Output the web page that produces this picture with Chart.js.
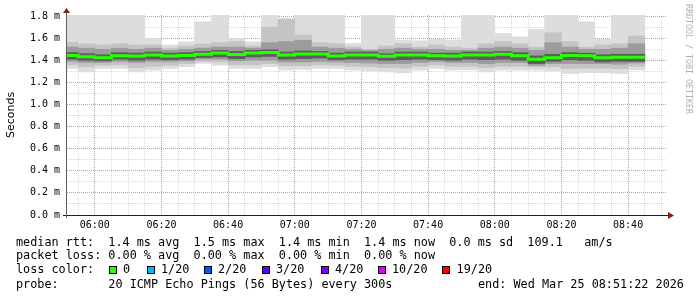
<!DOCTYPE html>
<html><head><meta charset="utf-8">
<script src="https://cdn.jsdelivr.net/npm/chart.js@4/dist/chart.umd.min.js"></script>
<style>
html,body{margin:0;padding:0;background:#fff;}
#wrap{position:relative;width:697px;height:297px;overflow:hidden;background:#fff;}
#c{position:absolute;left:0;top:0;}
.row{position:absolute;left:16px;font-family:"DejaVu Sans Mono",monospace;font-size:11.8px;line-height:14px;white-space:pre;color:#000;}
.lt{position:absolute;font-family:"DejaVu Sans Mono",monospace;font-size:11.8px;line-height:14px;white-space:pre;color:#000;}
.box{position:absolute;width:6px;height:6px;border:1px solid #000;}
#credit{position:absolute;left:684px;top:4px;writing-mode:vertical-rl;font-family:"DejaVu Sans Mono",monospace;font-size:8.3px;line-height:10px;color:#b0b0b0;white-space:pre;}
</style></head>
<body>
<div id="wrap">
<canvas id="c" width="697" height="297"></canvas>
<div id="credit">RRDTOOL / TOBI OETIKER</div>
<div id="legend"></div>
</div>
<script>
// ---- data (5-minute steps, start time of each step) ----
const times = ["05:50","05:55","06:00","06:05","06:10","06:15","06:20","06:25","06:30","06:35","06:40","06:45",
  "06:50","06:55","07:00","07:05","07:10","07:15","07:20","07:25","07:30","07:35","07:40","07:45",
  "07:50","07:55","08:00","08:05","08:10","08:15","08:20","08:25","08:30","08:35","08:40"];
// median rtt (ms)
const median = [1.444,1.432,1.422,1.441,1.438,1.449,1.438,1.444,1.454,1.465,1.452,1.467,1.471,1.447,1.456,1.456,1.438,1.447,
  1.449,1.436,1.447,1.449,1.441,1.440,1.449,1.449,1.454,1.441,1.409,1.422,1.444,1.441,1.422,1.427,1.427];
// smoke: slowest / fastest ping (ms)
const pingMax = [1.81,1.81,1.81,1.81,1.81,1.598,1.538,1.567,1.748,1.81,1.598,1.567,1.81,1.78,1.81,1.81,1.81,1.553,
  1.81,1.81,1.583,1.577,1.59,1.583,1.81,1.81,1.643,1.613,1.682,1.81,1.81,1.748,1.59,1.81,1.81];
const pingMin = [1.327,1.296,1.327,1.327,1.296,1.312,1.327,1.342,1.372,1.357,1.327,1.327,1.342,1.312,1.318,1.327,1.327,1.312,
  1.303,1.296,1.287,1.312,1.327,1.312,1.312,1.296,1.312,1.312,1.312,1.303,1.282,1.287,1.287,1.282,1.312];
// smoke: 2nd slowest / 2nd fastest
const outerHi = [1.565,1.55,1.54,1.55,1.54,1.54,1.51,1.53,1.545,1.56,1.57,1.53,1.70,1.77,1.63,1.56,1.55,1.52,
  1.50,1.53,1.55,1.52,1.54,1.52,1.51,1.55,1.57,1.55,1.52,1.65,1.57,1.52,1.54,1.55,1.62];
const outerLo = [1.36,1.34,1.355,1.36,1.335,1.345,1.355,1.37,1.39,1.385,1.36,1.36,1.37,1.35,1.35,1.36,1.355,1.345,
  1.34,1.335,1.33,1.345,1.36,1.345,1.345,1.335,1.345,1.345,1.34,1.34,1.325,1.33,1.33,1.325,1.345];
// smoke: middle band
const midHi = [1.52,1.51,1.50,1.51,1.50,1.51,1.49,1.50,1.51,1.52,1.52,1.51,1.56,1.57,1.58,1.52,1.51,1.50,
  1.49,1.50,1.51,1.50,1.50,1.49,1.49,1.51,1.52,1.51,1.49,1.56,1.52,1.50,1.50,1.51,1.55];
const midLo = [1.39,1.38,1.38,1.39,1.38,1.39,1.39,1.395,1.41,1.41,1.395,1.40,1.40,1.385,1.385,1.39,1.385,1.38,
  1.375,1.37,1.37,1.38,1.39,1.38,1.38,1.37,1.38,1.38,1.355,1.37,1.37,1.37,1.37,1.365,1.375];
// smoke: inner (dense) band
const innerHi = [1.47,1.46,1.45,1.47,1.465,1.475,1.465,1.47,1.48,1.49,1.48,1.49,1.495,1.475,1.485,1.48,1.465,1.475,
  1.475,1.46,1.475,1.475,1.465,1.465,1.475,1.475,1.48,1.47,1.44,1.455,1.47,1.465,1.45,1.455,1.455];
const innerLo = [1.41,1.40,1.395,1.41,1.40,1.41,1.405,1.41,1.425,1.43,1.415,1.43,1.435,1.41,1.415,1.42,1.405,1.41,
  1.41,1.40,1.405,1.41,1.405,1.40,1.41,1.405,1.41,1.40,1.37,1.39,1.405,1.40,1.385,1.39,1.39];
// axis
const yTicks = [0,0.1,0.2,0.3,0.4,0.5,0.6,0.7,0.8,0.9,1.0,1.1,1.2,1.3,1.4,1.5,1.6,1.7,1.8];
const yMax = 1.81;
const startTime = "05:51:22", endTime = "08:51:22";
const stepMin = 5;

// legend texts
const legendRows = [
  "median rtt:  1.4 ms avg  1.5 ms max  1.4 ms min  1.4 ms now  0.0 ms sd  109.1   am/s",
  "packet loss: 0.00 % avg  0.00 % max  0.00 % min  0.00 % now",
  "loss color:",
  "probe:       20 ICMP Echo Pings (56 Bytes) every 300s"
];
const endText = "end: Wed Mar 25 08:51:22 2026";
const lossLabels = ["0","1/20","2/20","3/20","4/20","10/20","19/20"];
const lossColors = ["#26ff00","#00b8ff","#0059ff","#5e00ff","#7e00ff","#dd00ff","#ff0000"];

// ---- helpers ----
const toMin = s => { const p = s.split(':').map(Number); return p[0]*60 + p[1] + (p[2]||0)/60; };
const centers = times.map(t => toMin(t) + stepMin/2);
const band = (lo, hi) => centers.map((x, i) => ({x, y: [lo[i], hi[i]]}));
const medPts = times.map((t, i) => ({x: toMin(t), y: median[i]}));
medPts.push({x: toMin(times[times.length-1]) + stepMin, y: median[median.length-1]});
const pad2 = n => String(n).padStart(2,'0');

const barBase = {type:'bar', grouped:false, barPercentage:1, categoryPercentage:1, borderWidth:0};
const MGRID = 'rgba(235,60,60,0.6)', GRID = 'rgba(150,150,150,0.35)';

const axisDeco = {
  id:'axisDeco',
  afterDraw(chart){
    const {ctx, chartArea:a} = chart;
    ctx.save();
    ctx.fillStyle = '#801f1f';
    // y arrow
    ctx.beginPath();
    ctx.moveTo(a.left - 3, a.top - 2);
    ctx.lineTo(a.left + 4, a.top - 2);
    ctx.lineTo(a.left + 0.5, a.top - 7);
    ctx.closePath(); ctx.fill();
    // x arrow
    ctx.beginPath();
    ctx.moveTo(a.right + 2, a.bottom - 3);
    ctx.lineTo(a.right + 2, a.bottom + 4);
    ctx.lineTo(a.right + 8, a.bottom + 0.5);
    ctx.closePath(); ctx.fill();
    // axis lines
    ctx.strokeStyle = '#1f1f1f'; ctx.lineWidth = 1;
    ctx.beginPath();
    ctx.moveTo(a.left - 3, a.bottom + 0.5); ctx.lineTo(a.right + 2, a.bottom + 0.5);
    ctx.stroke();
    ctx.strokeStyle = '#606060';
    ctx.beginPath();
    ctx.moveTo(a.left + 0.5, a.bottom + 3); ctx.lineTo(a.left + 0.5, a.top - 2);
    ctx.stroke();
    ctx.restore();
  }
};

const gridColor = (c, major) => (c.type === 'tick' || c.tick) ? (major(c.tick.value) ? MGRID : GRID) : GRID;

new Chart(document.getElementById('c'), {
  type:'bar',
  data:{
    datasets:[
      {type:'line', data:medPts, borderColor:lossColors[0], borderWidth:3, pointRadius:0, stepped:'before', order:0, borderCapStyle:'butt', fill:false},
      Object.assign({data:band(innerLo, innerHi), backgroundColor:'#5e5e5e', order:1}, barBase),
      Object.assign({data:band(midLo, midHi), backgroundColor:'#9c9c9c', order:2}, barBase),
      Object.assign({data:band(outerLo, outerHi), backgroundColor:'#c4c4c4', order:3}, barBase),
      Object.assign({data:band(pingMin, pingMax), backgroundColor:'#dddddd', order:4}, barBase)
    ]
  },
  options:{
    responsive:false, animation:false, devicePixelRatio:1,
    layout:{padding:{top:15, right:31, left:0, bottom:0}},
    plugins:{legend:{display:false}, tooltip:{enabled:false}},
    scales:{
      x:{
        type:'linear', offset:false, min:toMin(startTime), max:toMin(endTime), z:1,
        afterBuildTicks(s){ const t=[]; for(let m=Math.ceil(s.min/stepMin)*stepMin; m<s.max; m+=stepMin) t.push({value:m}); s.ticks=t; },
        afterFit(s){ s.height = 82; },
        ticks:{autoSkip:false, maxRotation:0, padding:4, color:'#000', font:{family:'DejaVu Sans Mono', size:10},
          callback:v => (Math.round(v) % 20 === 0) ? pad2(Math.floor(v/60)) + ':' + pad2(Math.round(v)%60) : ''},
        grid:{offset:false, drawTicks:false, lineWidth:1, borderDash:[1,1],
          color:c => gridColor(c, v => Math.round(v) % 20 === 0)},
        border:{display:true, width:1, color:'rgba(0,0,0,0)', dash:[1,1]}
      },
      y:{
        min:0, max:yMax, z:1,
        afterBuildTicks(s){ s.ticks = yTicks.map(v => ({value:v})); },
        afterFit(s){ s.width = 66; },
        ticks:{autoSkip:false, padding:6, color:'#000', font:{family:'DejaVu Sans Mono', size:10},
          callback:v => (Math.round(v*10) % 2 === 0) ? v.toFixed(1) + ' m' : ''},
        grid:{drawTicks:false, lineWidth:1, borderDash:[1,1],
          color:c => gridColor(c, v => Math.round(v*10) % 2 === 0)},
        border:{display:true, width:1, color:'rgba(0,0,0,0)', dash:[1,1]},
        title:{display:true, text:'Seconds', color:'#000', font:{family:'DejaVu Sans', size:11, lineHeight:1.2}, padding:{top:4.4, bottom:0}}
      }
    }
  },
  plugins:[axisDeco]
});

// ---- legend (HTML text) ----
const leg = document.getElementById('legend');
const rowTops = [234.5, 248, 262, 276.5];
legendRows.forEach((t, i) => {
  const d = document.createElement('div'); d.className='row'; d.style.top = rowTops[i]+'px'; d.textContent = t; leg.appendChild(d);
});
const e = document.createElement('div'); e.className='lt'; e.style.left='478px'; e.style.top=rowTops[3]+'px'; e.textContent=endText; leg.appendChild(e);
const boxX = [108.7, 146.7, 203.7, 261.7, 320.7, 377.7, 442.3];
lossLabels.forEach((l, i) => {
  const b = document.createElement('div'); b.className='box'; b.style.left=boxX[i]+'px'; b.style.top='265.5px'; b.style.background=lossColors[i]; leg.appendChild(b);
  const t = document.createElement('div'); t.className='lt'; t.style.left=(boxX[i]+14.3)+'px'; t.style.top=rowTops[2]+'px'; t.textContent=l; leg.appendChild(t);
});
</script>
</body></html>
